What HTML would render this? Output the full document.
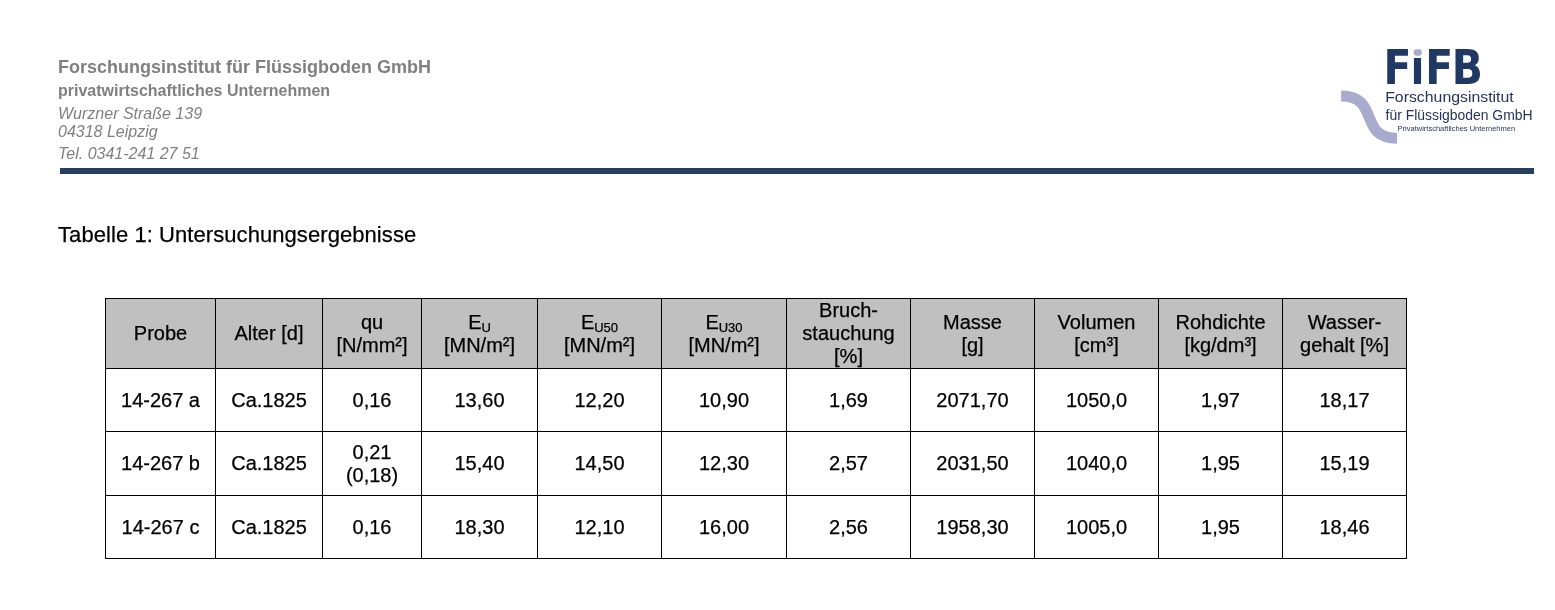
<!DOCTYPE html>
<html lang="de">
<head>
<meta charset="utf-8">
<title>Tabelle 1: Untersuchungsergebnisse</title>
<style>
html,body{margin:0;padding:0;background:#fff;}
body{width:1555px;height:610px;position:relative;overflow:hidden;font-family:"Liberation Sans",sans-serif;color:#000;}
.t{position:absolute;white-space:nowrap;line-height:1;margin:0;}
.hd{color:#808080;left:58px;}
.h1{font-weight:bold;font-size:18px;top:58px;}
.h2{font-weight:bold;font-size:16px;top:83px;}
.h3{font-style:italic;font-size:16px;}
.logo{position:absolute;left:1330px;top:40px;}
.rule{position:absolute;left:60px;top:168px;width:1474px;height:6px;background:#243f60;}
.title{left:58px;top:224px;font-size:22px;letter-spacing:0.07px;-webkit-text-stroke:0.25px #000;}
table{-webkit-text-stroke:0.25px #000;position:absolute;left:105px;top:298px;border-collapse:collapse;table-layout:fixed;font-size:20px;}
td,th{border:1px solid #000;text-align:center;vertical-align:middle;padding:0;font-weight:normal;line-height:23px;}
th{background:#c0c0c0;height:69px;}
td{height:62px;}
tr.r2 td{height:63px;}
sub{line-height:0;font-size:13px;vertical-align:baseline;position:relative;top:3px;}
</style>
</head>
<body>
<div class="t hd h1">Forschungsinstitut für Flüssigboden GmbH</div>
<div class="t hd h2">privatwirtschaftliches Unternehmen</div>
<div class="t hd h3" style="top:106px">Wurzner Straße 139</div>
<div class="t hd h3" style="top:124px">04318 Leipzig</div>
<div class="t hd h3" style="top:146px">Tel. 0341-241 27 51</div>
<svg class="logo" width="225" height="130" viewBox="0 0 225 130">
<path d="M11.1 55.9 C50.6 55.9 27.5 98.2 67 98.2" fill="none" stroke="#a9abce" stroke-width="11"/>
<g transform="scale(0.86,1)"><text x="62.15 93.57 110.76 141.45" y="44.5" font-family="'DejaVu Sans',sans-serif" font-weight="bold" font-size="47.5" fill="#1f3864">FiFB</text></g>
<rect x="82" y="7" width="11" height="10.5" fill="#fff"/>
<rect x="83.6" y="9.2" width="8.2" height="6.6" rx="3" ry="3" fill="#a9abce"/>
<text x="55.2" y="61.7" font-family="'Liberation Sans',sans-serif" font-size="14.5" fill="#25355a" textLength="128.5" lengthAdjust="spacingAndGlyphs">Forschungsinstitut</text>
<text x="55.6" y="80.2" font-family="'Liberation Sans',sans-serif" font-size="14.5" fill="#25355a" textLength="147" lengthAdjust="spacingAndGlyphs">für Flüssigboden GmbH</text>
<text x="67.6" y="90.6" font-family="'Liberation Sans',sans-serif" font-size="7.2" fill="#25355a" textLength="117.5" lengthAdjust="spacingAndGlyphs">Privatwirtschaftliches Unternehmen</text>
</svg>
<div class="rule"></div>
<div class="t title">Tabelle 1: Untersuchungsergebnisse</div>

<table>
<colgroup>
<col style="width:110px"><col style="width:107px"><col style="width:99px"><col style="width:116px"><col style="width:124px"><col style="width:125px"><col style="width:124px"><col style="width:124px"><col style="width:124px"><col style="width:124px"><col style="width:124px">
</colgroup>
<tr>
<th>Probe</th><th>Alter [d]</th><th>qu<br>[N/mm²]</th><th class="e">E<sub>U</sub><br>[MN/m²]</th><th class="e">E<sub>U50</sub><br>[MN/m²]</th><th class="e">E<sub>U30</sub><br>[MN/m²]</th><th>Bruch-<br>stauchung<br>[%]</th><th>Masse<br>[g]</th><th>Volumen<br>[cm³]</th><th>Rohdichte<br>[kg/dm³]</th><th>Wasser-<br>gehalt [%]</th>
</tr>
<tr><td>14-267 a</td><td>Ca.1825</td><td>0,16</td><td>13,60</td><td>12,20</td><td>10,90</td><td>1,69</td><td>2071,70</td><td>1050,0</td><td>1,97</td><td>18,17</td></tr>
<tr class="r2"><td>14-267 b</td><td>Ca.1825</td><td>0,21<br>(0,18)</td><td>15,40</td><td>14,50</td><td>12,30</td><td>2,57</td><td>2031,50</td><td>1040,0</td><td>1,95</td><td>15,19</td></tr>
<tr><td>14-267 c</td><td>Ca.1825</td><td>0,16</td><td>18,30</td><td>12,10</td><td>16,00</td><td>2,56</td><td>1958,30</td><td>1005,0</td><td>1,95</td><td>18,46</td></tr>
</table>
</body>
</html>
